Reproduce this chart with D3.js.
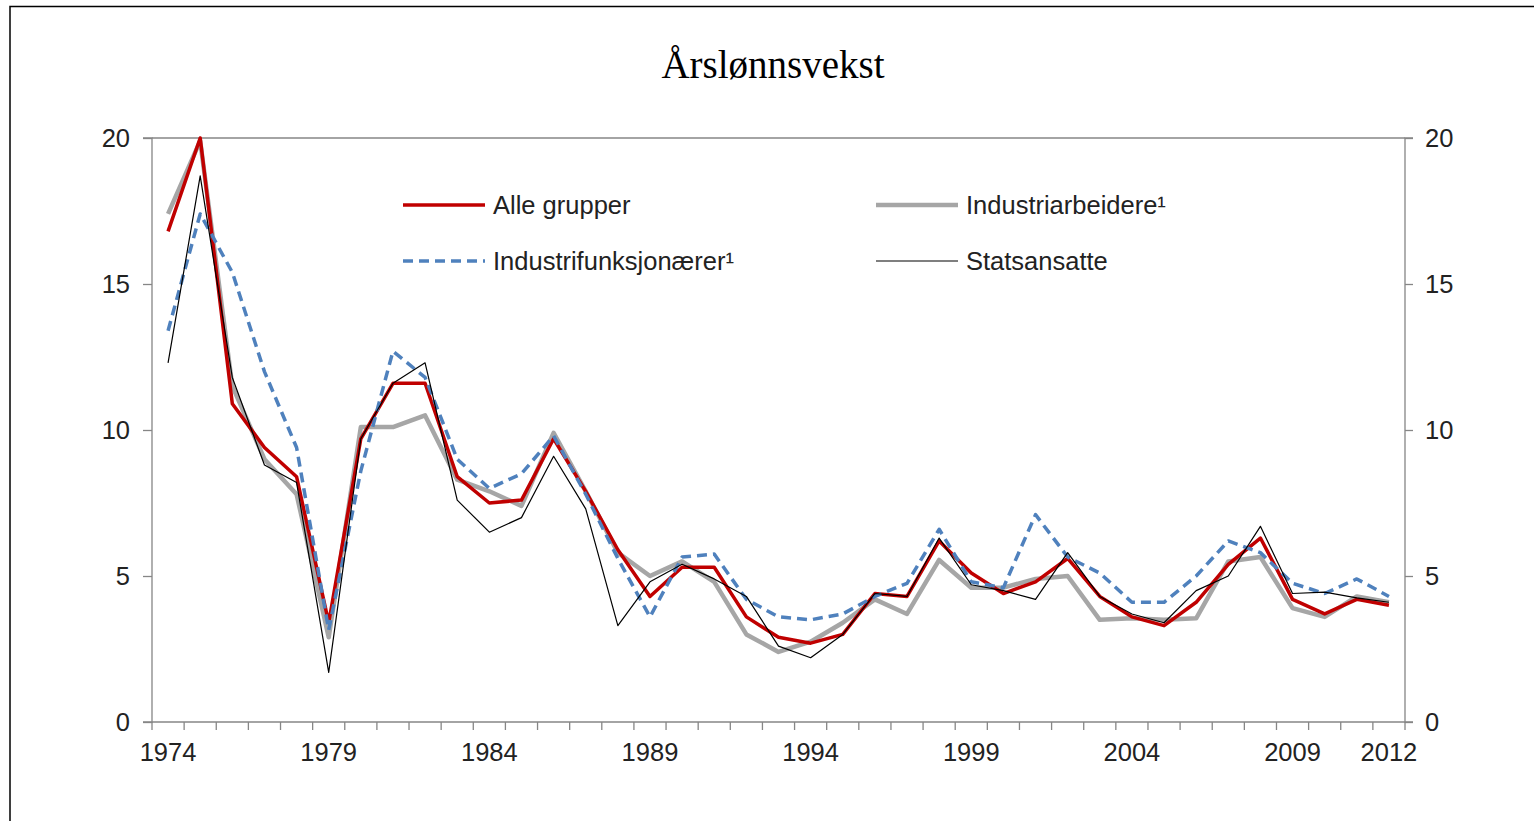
<!DOCTYPE html>
<html><head><meta charset="utf-8">
<script src="https://cdn.jsdelivr.net/npm/d3@7"></script>
<style>body{margin:0;background:#fff;}svg{display:block;}</style>
</head><body>
<svg id="c" width="1534" height="821"></svg>
<script>
const years = d3.range(1974, 2013);
const xTickLabels = [1974, 1979, 1984, 1989, 1994, 1999, 2004, 2009, 2012];
const yTicks = [0, 5, 10, 15, 20];
const alleGrupper = [16.8,20.0,10.9,9.4,8.4,3.4,9.7,11.6,11.6,8.4,7.5,7.6,9.7,7.9,5.9,4.3,5.3,5.3,3.6,2.9,2.7,3.0,4.4,4.3,6.2,5.1,4.4,4.8,5.6,4.3,3.6,3.3,4.1,5.4,6.3,4.2,3.7,4.2,4.0];
const industriarbeidere = [17.4,19.9,11.5,9.0,7.8,2.9,10.1,10.1,10.5,8.3,7.9,7.4,9.9,7.9,5.8,5.0,5.5,4.8,3.0,2.4,2.75,3.4,4.2,3.7,5.55,4.6,4.6,4.9,5.0,3.5,3.55,3.5,3.55,5.5,5.65,3.9,3.6,4.3,4.1];
const industrifunksjonaerer = [13.4,17.4,15.4,12.0,9.4,3.15,8.6,12.7,11.8,9.0,8.0,8.5,9.8,7.8,5.6,3.6,5.65,5.75,4.2,3.6,3.5,3.7,4.3,4.75,6.6,4.8,4.6,7.1,5.65,5.1,4.1,4.1,5.0,6.2,5.8,4.75,4.4,4.9,4.3];
const statsansatte = [12.3,18.7,11.8,8.8,8.2,1.7,9.7,11.6,12.3,7.6,6.5,7.0,9.1,7.3,3.3,4.8,5.4,4.9,4.3,2.6,2.2,3.0,4.4,4.3,6.3,4.7,4.5,4.2,5.8,4.3,3.7,3.4,4.5,5.0,6.7,4.4,4.45,4.25,4.1];
const seriesNames = ["Alle grupper","Industriarbeidere\u00B9","Industrifunksjon\u00E6rer\u00B9","Statsansatte"];

const svg = d3.select("#c");
const L = 152, R = 1405, T = 138, B = 722;
const x = d3.scaleBand().domain(years).range([L, R]);
const y = d3.scaleLinear().domain([0, 20]).range([B, T]);
const cx = d => x(d) + x.bandwidth() / 2;
const axisCol = "#868686";
const font = "'Liberation Sans', Arial, sans-serif";
const fs = 25.5;

// frame
svg.append("path").attr("d", "M10,821 V6.5 H1534").attr("fill","none").attr("stroke","#000").attr("stroke-width",1.5);

// title
svg.append("text").attr("x", 773).attr("y", 78).attr("text-anchor","middle")
  .attr("font-family","'Liberation Serif', 'Times New Roman', serif").attr("font-size", 39).attr("fill","#000")
  .text("Årslønnsvekst");

// top line at 20
svg.append("line").attr("x1", L).attr("x2", R).attr("y1", y(20)).attr("y2", y(20)).attr("stroke", axisCol).attr("stroke-width", 1.3);

// left axis
const yl = svg.append("g").attr("transform", `translate(${L},0)`)
  .call(d3.axisLeft(y).tickValues(yTicks).tickSize(9).tickPadding(13).tickFormat(d3.format("d")));
// right axis
const yr = svg.append("g").attr("transform", `translate(${R},0)`)
  .call(d3.axisRight(y).tickValues(yTicks).tickSize(8).tickPadding(12).tickFormat(d3.format("d")));
[yl, yr].forEach(g => {
  g.select(".domain").attr("stroke", axisCol).attr("stroke-width", 1.3).attr("d", g === yl ? `M-9,${T}H0V${B}H-9` : `M8,${T}H0V${B}H8`);
  g.selectAll(".tick line").attr("stroke", axisCol).attr("stroke-width", 1.3);
  g.selectAll("text").attr("font-family", font).attr("font-size", fs).attr("fill", "#222");
});

// bottom axis
const xb = svg.append("g").attr("transform", `translate(0,${B})`);
xb.append("line").attr("x1", L).attr("x2", R).attr("stroke", axisCol).attr("stroke-width", 1.3);
xb.selectAll("line.tk").data(years.concat([2013])).enter().append("line")
  .attr("class","tk")
  .attr("x1", d => d === 2013 ? R : x(d)).attr("x2", d => d === 2013 ? R : x(d))
  .attr("y1", 0).attr("y2", 8).attr("stroke", axisCol).attr("stroke-width", 1.3);
xb.selectAll("text").data(xTickLabels).enter().append("text")
  .attr("x", d => cx(d)).attr("y", 39).attr("text-anchor","middle")
  .attr("font-family", font).attr("font-size", fs).attr("fill", "#222")
  .text(d => d);

const line = d3.line().x((d, i) => cx(years[i])).y(d => y(d));
const styles = [
  {data: industriarbeidere, stroke: "#A6A6A6", w: 4.5, dash: null},
  {data: alleGrupper, stroke: "#C00000", w: 3.5, dash: null},
  {data: industrifunksjonaerer, stroke: "#4F81BD", w: 3.5, dash: "10,6"},
  {data: statsansatte, stroke: "#000", w: 1.2, dash: null}
];
styles.forEach(s => {
  svg.append("path").datum(s.data).attr("d", line).attr("fill","none")
    .attr("stroke", s.stroke).attr("stroke-width", s.w).attr("stroke-dasharray", s.dash)
    .attr("stroke-linejoin","round");
});

// legend
const leg = [
  {name: seriesNames[0], stroke:"#C00000", w:3.5, dash:null, x:403, y:205},
  {name: seriesNames[1], stroke:"#A6A6A6", w:4.5, dash:null, x:876, y:205},
  {name: seriesNames[2], stroke:"#4F81BD", w:3.5, dash:"10,6", x:403, y:261},
  {name: seriesNames[3], stroke:"#000", w:1.2, dash:null, x:876, y:261}
];
leg.forEach(l => {
  svg.append("line").attr("x1", l.x).attr("x2", l.x + 82).attr("y1", l.y).attr("y2", l.y)
    .attr("stroke", l.stroke).attr("stroke-width", l.w).attr("stroke-dasharray", l.dash);
  svg.append("text").attr("x", l.x + 90).attr("y", l.y + 9).attr("font-family", font)
    .attr("font-size", fs).attr("fill", "#222").text(l.name);
});
</script>
</body></html>
